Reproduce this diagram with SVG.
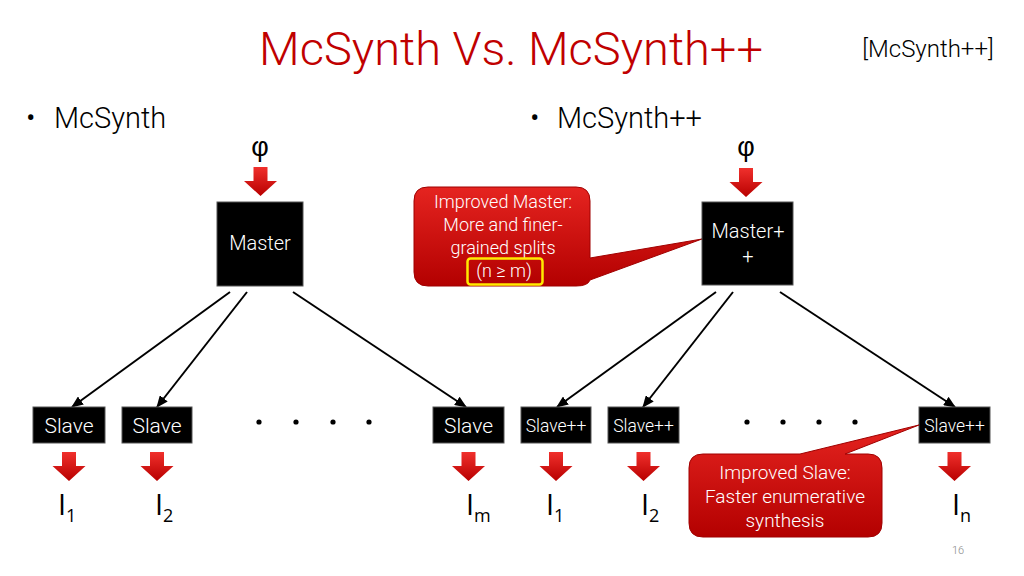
<svg xmlns="http://www.w3.org/2000/svg" width="1024" height="576" viewBox="0 0 1024 576">
<style>
.t{font-family:Roboto,"Liberation Sans",sans-serif;font-weight:300}
.title{fill:#C00000;font-size:47px}
.ref{fill:#000;font-size:24px}
.bul{fill:#000;font-size:29px}
.box{fill:#000;stroke:#555;stroke-width:1}
.bt{fill:#fff;font-size:20px;text-anchor:middle}
.st{fill:#fff;font-size:21px;text-anchor:middle}
.spp{fill:#fff;font-size:17.5px;text-anchor:middle}
.ct{fill:#fff;font-size:18px;text-anchor:middle}
.ct2{fill:#fff;font-size:19px;text-anchor:middle}
.lab{font-family:"Open Sans","Liberation Sans",sans-serif;fill:#000;font-size:29px}
.sub{font-size:18px}
.phi{font-family:"Liberation Sans",sans-serif;fill:#000;font-size:27px;text-anchor:middle}
.conn{stroke:#000;stroke-width:2;fill:none;marker-end:url(#ah)}
.dot{fill:#000}
</style>
<defs>
<linearGradient id="rg" x1="0" y1="0" x2="0" y2="1">
<stop offset="0" stop-color="#f0302c"/>
<stop offset="1" stop-color="#b80000"/>
</linearGradient>
<linearGradient id="cg" x1="0" y1="0" x2="0" y2="1">
<stop offset="0" stop-color="#e52420"/>
<stop offset="1" stop-color="#b30000"/>
</linearGradient>
<marker id="ah" markerWidth="12" markerHeight="10" refX="11" refY="5" orient="auto" markerUnits="userSpaceOnUse">
<path d="M0,0 L12,5 L0,10 Z" fill="#000"/>
</marker>
<path id="ba" d="M-7,0 H7 V14 H16.5 L0,29 L-16.5,14 H-7 Z" fill="url(#rg)"/>
</defs>
<rect width="1024" height="576" fill="#fff"/>

<text class="t title" x="511" y="65" text-anchor="middle">McSynth Vs. McSynth++</text>
<text class="t ref" x="928" y="57" text-anchor="middle">[McSynth++]</text>
<text class="t bul" x="26" y="128" font-size="24">•</text>
<text class="t bul" x="54" y="128">McSynth</text>
<text class="t bul" x="530" y="128" font-size="24">•</text>
<text class="t bul" x="557" y="128">McSynth++</text>
<text class="t" x="958" y="554" fill="#888" font-size="11" text-anchor="middle">16</text>

<g id="connectors">
<line class="conn" x1="230" y1="292" x2="72" y2="407"/>
<line class="conn" x1="247" y1="292" x2="157" y2="407"/>
<line class="conn" x1="293" y1="292" x2="466" y2="407"/>
<line class="conn" x1="716" y1="292" x2="557" y2="407"/>
<line class="conn" x1="733" y1="292" x2="643" y2="407"/>
<line class="conn" x1="780" y1="292" x2="955" y2="407"/>
</g>

<g id="phi-left">
<text class="phi" x="260" y="156">φ</text>
<use href="#ba" x="260.5" y="167"/>
</g>
<g id="phi-right">
<text class="phi" x="746" y="156">φ</text>
<use href="#ba" x="746" y="168"/>
</g>

<g id="master">
<rect class="box" x="217" y="202" width="86" height="84"/>
<text class="t bt" x="260" y="250">Master</text>
</g>

<g id="callout-master">
<path d="M428,187 H576 Q590,187 590,201 V258 L702,239 L590,280 Q588,286 576,286 H428 Q414,286 414,272 V201 Q414,187 428,187 Z" fill="url(#cg)" stroke="#a00000" stroke-width="1"/>
<text class="t ct" x="503" y="208">Improved Master:</text>
<text class="t ct" x="503" y="231">More and finer-</text>
<text class="t ct" x="503" y="254">grained splits</text>
<text class="t ct" x="504" y="277">(n ≥ m)</text>
<rect x="467.5" y="258.5" width="75" height="26" rx="3" fill="none" stroke="#ffea00" stroke-width="2.5"/>
</g>

<g id="masterpp">
<rect class="box" x="702" y="202" width="91" height="83"/>
<text class="t bt" x="748" y="238">Master+</text>
<text class="t bt" x="748" y="263">+</text>
</g>

<g id="slave1">
<rect class="box" x="33" y="407" width="72" height="36"/>
<text class="t st" x="69" y="433">Slave</text>
<use href="#ba" x="69" y="452"/>
<text class="lab" x="58" y="515">I<tspan class="sub" dy="7">1</tspan></text>
</g>
<g id="slave2">
<rect class="box" x="122" y="407" width="70" height="36"/>
<text class="t st" x="157" y="433">Slave</text>
<use href="#ba" x="157" y="452"/>
<text class="lab" x="155" y="515">I<tspan class="sub" dy="7">2</tspan></text>
</g>
<g id="slave-m">
<rect class="box" x="433" y="407" width="71" height="36"/>
<text class="t st" x="468.5" y="433">Slave</text>
<use href="#ba" x="468.5" y="452"/>
<text class="lab" x="466" y="515">I<tspan class="sub" dy="7">m</tspan></text>
</g>
<g id="dots-left">
<circle class="dot" cx="259" cy="422" r="2.6"/>
<circle class="dot" cx="296" cy="422" r="2.6"/>
<circle class="dot" cx="333" cy="422" r="2.6"/>
<circle class="dot" cx="369" cy="422" r="2.6"/>
</g>

<g id="slavepp1">
<rect class="box" x="521" y="407" width="70" height="36"/>
<text class="t spp" x="556" y="432">Slave++</text>
<use href="#ba" x="556" y="452"/>
<text class="lab" x="546" y="515">I<tspan class="sub" dy="7">1</tspan></text>
</g>
<g id="slavepp2">
<rect class="box" x="608" y="407" width="71" height="36"/>
<text class="t spp" x="643.5" y="432">Slave++</text>
<use href="#ba" x="643.5" y="452"/>
<text class="lab" x="641" y="515">I<tspan class="sub" dy="7">2</tspan></text>
</g>
<g id="slavepp-n">
<rect class="box" x="919" y="407" width="71" height="36"/>
<text class="t spp" x="954.5" y="432">Slave++</text>
<use href="#ba" x="954.5" y="452"/>
<text class="lab" x="952" y="515">I<tspan class="sub" dy="7">n</tspan></text>
</g>
<g id="dots-right">
<circle class="dot" cx="747" cy="422" r="2.6"/>
<circle class="dot" cx="783" cy="422" r="2.6"/>
<circle class="dot" cx="819" cy="422" r="2.6"/>
<circle class="dot" cx="855" cy="422" r="2.6"/>
</g>

<g id="callout-slave">
<path d="M703,454 H800 L919,425 L845,454 H868 Q882,454 882,468 V523 Q882,537 868,537 H703 Q689,537 689,523 V468 Q689,454 703,454 Z" fill="url(#cg)" stroke="#a00000" stroke-width="1"/>
<text class="t ct2" x="785" y="479">Improved Slave:</text>
<text class="t ct2" x="785" y="503">Faster enumerative</text>
<text class="t ct2" x="785" y="527">synthesis</text>
</g>
</svg>
